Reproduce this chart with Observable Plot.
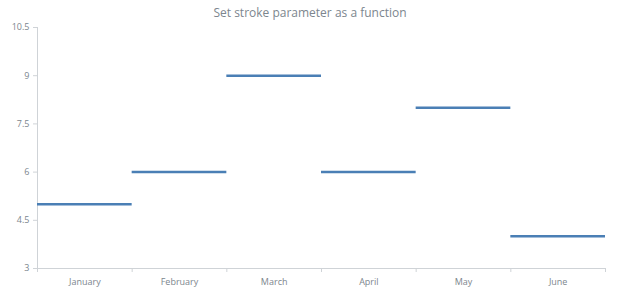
<!DOCTYPE html>
<html>
<head>
<meta charset="utf-8">
<script src="https://cdn.jsdelivr.net/npm/d3@7"></script>
<script src="https://cdn.jsdelivr.net/npm/@observablehq/plot@0.6"></script>
<style>
  html, body { margin: 0; padding: 0; background: #fff; }
  #title { height: 16px; line-height: 26px; overflow: visible; text-align: center; font-family: "Open Sans", sans-serif; font-size: 12px; color: #7c868e; width: 620px; }
  #chart svg { display: block; }
</style>
</head>
<body>
<div id="title">Set stroke parameter as a function</div>
<div id="chart"></div>
<script>
const months = ["January", "February", "March", "April", "May", "June"];
const values = [5, 6, 9, 6, 8, 4];
const yTicks = [3, 4.5, 6, 7.5, 9, 10.5];

const data = months.map((m, i) => ({month: m, i, value: values[i]}));
const gray = "#7c868e";
const axisColor = "#cfd3d7";

const chart = Plot.plot({
  width: 620,
  height: 284,
  marginLeft: 37,
  marginRight: 15,
  marginTop: 11,
  marginBottom: 32,
  style: {fontFamily: "'Open Sans', sans-serif", fontSize: "9px", color: gray, background: "#fff"},
  x: {type: "linear", domain: [0, months.length]},
  y: {domain: [3, 10.5]},
  marks: [
    Plot.ruleY([3], {stroke: axisColor}),
    Plot.ruleX([0], {stroke: axisColor}),
    Plot.axisY({ticks: yTicks, tickSize: 4, tickPadding: 4, stroke: axisColor, color: gray, label: null, tickFormat: d => String(d)}),
    Plot.axisX({ticks: d3.range(0, months.length + 1), tickSize: 4, tickFormat: () => "", stroke: axisColor, label: null}),
    Plot.axisX({ticks: d3.range(0, months.length).map(i => i + 0.5), tickSize: 0, tickPadding: 10, tickFormat: d => months[Math.floor(d)], fill: gray, label: null}),
    Plot.ruleY(data, {y: "value", x1: "i", x2: d => d.i + 1, stroke: "#4a7fb5", strokeWidth: 2.5})
  ]
});
document.getElementById("chart").appendChild(chart);
</script>
</body>
</html>
